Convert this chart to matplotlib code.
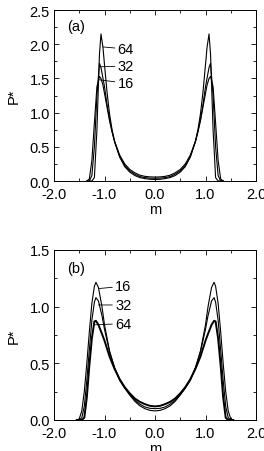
import numpy as np
import matplotlib
matplotlib.use('Agg')
import matplotlib.pyplot as plt
from matplotlib.ticker import MultipleLocator

plt.rcParams['font.family'] = ['Liberation Sans', 'DejaVu Sans']

# panel (a): left half, right half typed in mirror order
m_a = [-1.35, -1.30, -1.25, -1.20, -1.15, -1.10, -1.07, -1.03, -1.00, -0.95, -0.90, -0.85, -0.80,
       -0.70, -0.60, -0.50, -0.40, -0.30, -0.20, -0.10, 0.00,
       0.10, 0.20, 0.30, 0.40, 0.50, 0.60, 0.70, 0.80, 0.85, 0.90, 0.95, 1.00, 1.03, 1.07, 1.10,
       1.15, 1.20, 1.25, 1.30, 1.35]
p_a64 = [0.0, 0.0, 0.0, 0.05, 0.75, 1.85, 2.15, 1.95, 1.70, 1.30, 0.98, 0.75, 0.58,
         0.35, 0.21, 0.13, 0.08, 0.05, 0.035, 0.025, 0.022,
         0.025, 0.035, 0.05, 0.08, 0.13, 0.21, 0.35, 0.58, 0.75, 0.98, 1.30, 1.70, 1.95, 2.15, 1.85,
         0.75, 0.05, 0.0, 0.0, 0.0]
p_a32 = [0.0, 0.0, 0.08, 0.50, 1.25, 1.72, 1.66, 1.50, 1.38, 1.12, 0.90, 0.72, 0.57,
         0.36, 0.23, 0.15, 0.10, 0.065, 0.05, 0.042, 0.04,
         0.042, 0.05, 0.065, 0.10, 0.15, 0.23, 0.36, 0.57, 0.72, 0.90, 1.12, 1.38, 1.50, 1.66, 1.72,
         1.25, 0.50, 0.08, 0.0, 0.0]
p_a16 = [0.0, 0.03, 0.30, 0.85, 1.38, 1.53, 1.50, 1.40, 1.28, 1.08, 0.88, 0.72, 0.58,
         0.38, 0.25, 0.17, 0.12, 0.085, 0.068, 0.06, 0.058,
         0.06, 0.068, 0.085, 0.12, 0.17, 0.25, 0.38, 0.58, 0.72, 0.88, 1.08, 1.28, 1.40, 1.50, 1.53,
         1.38, 0.85, 0.30, 0.03, 0.0]

# panel (b)
m_b = [-1.55, -1.50, -1.45, -1.40, -1.35, -1.30, -1.25, -1.20, -1.17, -1.12, -1.05, -1.00, -0.90,
       -0.80, -0.70, -0.60, -0.50, -0.40, -0.30, -0.20, -0.10, 0.00,
       0.10, 0.20, 0.30, 0.40, 0.50, 0.60, 0.70, 0.80, 0.90, 1.00, 1.05, 1.12, 1.17, 1.20,
       1.25, 1.30, 1.35, 1.40, 1.45, 1.50, 1.55]
p_b16 = [0.0, 0.01, 0.08, 0.25, 0.50, 0.78, 1.03, 1.18, 1.215, 1.17, 1.00, 0.84, 0.61,
         0.46, 0.35, 0.28, 0.22, 0.165, 0.125, 0.10, 0.085, 0.08,
         0.085, 0.10, 0.125, 0.165, 0.22, 0.28, 0.35, 0.46, 0.61, 0.84, 1.00, 1.17, 1.215, 1.18,
         1.03, 0.78, 0.50, 0.25, 0.08, 0.01, 0.0]
p_b32 = [0.0, 0.0, 0.02, 0.12, 0.35, 0.62, 0.88, 1.04, 1.08, 1.05, 0.92, 0.80, 0.60,
         0.46, 0.36, 0.285, 0.225, 0.175, 0.14, 0.115, 0.103, 0.10,
         0.103, 0.115, 0.14, 0.175, 0.225, 0.285, 0.36, 0.46, 0.60, 0.80, 0.92, 1.05, 1.08, 1.04,
         0.88, 0.62, 0.35, 0.12, 0.02, 0.0, 0.0]
p_b64 = [0.0, 0.0, 0.0, 0.02, 0.20, 0.48, 0.72, 0.87, 0.875, 0.84, 0.76, 0.70, 0.56,
         0.45, 0.36, 0.29, 0.235, 0.19, 0.16, 0.14, 0.125, 0.12,
         0.125, 0.14, 0.16, 0.19, 0.235, 0.29, 0.36, 0.45, 0.56, 0.70, 0.76, 0.84, 0.875, 0.87,
         0.72, 0.48, 0.20, 0.02, 0.0, 0.0, 0.0]

fig = plt.figure(figsize=(2.64, 4.52), dpi=100)
ax1 = fig.add_axes([54/264, 1 - 182/452, 202/264, 171/452])
ax2 = fig.add_axes([54/264, 1 - 421/452, 202/264, 170/452])

fs = 10.5
for ax in (ax1, ax2):
    ax.set_xlim(-2.0, 2.0)
    ax.xaxis.set_major_locator(MultipleLocator(1.0))
    ax.xaxis.set_minor_locator(MultipleLocator(0.5))
    ax.yaxis.set_major_locator(MultipleLocator(0.5))
    ax.yaxis.set_minor_locator(MultipleLocator(0.25))
    ax.tick_params(which='both', direction='in', top=True, right=True, labelsize=fs)
    ax.tick_params(axis='x', pad=4)
    ax.tick_params(axis='y', pad=3)
    ax.tick_params(which='major', length=3.5, width=0.6)
    ax.tick_params(which='minor', length=2, width=0.6)
    ax.xaxis.set_major_formatter(plt.FormatStrFormatter('%.1f'))
    ax.yaxis.set_major_formatter(plt.FormatStrFormatter('%.1f'))
    for s in ax.spines.values():
        s.set_linewidth(0.7)
    ax.set_xlabel('m', fontsize=fs, labelpad=1)
    ax.set_ylabel('P*', fontsize=fs, labelpad=6)

ax1.set_ylim(0, 2.5)
ax1.plot(m_a, p_a64, color='k', lw=0.8)
ax1.plot(m_a, p_a32, color='k', lw=0.8)
ax1.plot(m_a, p_a16, color='k', lw=0.8)
ax1.text(-1.74, 2.27, '(a)', fontsize=fs, va='center')
for lab, xy, yt in [('64', (-1.03, 1.96), 1.93), ('32', (-1.09, 1.67), 1.68), ('16', (-1.11, 1.48), 1.43)]:
    ax1.annotate(lab, xy=xy, xytext=(-0.74, yt), fontsize=fs, va='center',
                 arrowprops=dict(arrowstyle='-', lw=0.6, color='k', shrinkA=0, shrinkB=0))

ax2.set_ylim(0, 1.5)
ax2.plot(m_b, p_b16, color='k', lw=0.8)
ax2.plot(m_b, p_b32, color='k', lw=0.8)
ax2.plot(m_b, p_b64, color='k', lw=1.4)
ax2.text(-1.74, 1.34, '(b)', fontsize=fs, va='center')
for lab, xy, yt in [('16', (-1.11, 1.16), 1.18), ('32', (-1.12, 1.015), 1.015), ('64', (-1.19, 0.84), 0.85)]:
    ax2.annotate(lab, xy=xy, xytext=(-0.79, yt), fontsize=fs, va='center',
                 arrowprops=dict(arrowstyle='-', lw=0.6, color='k', shrinkA=0, shrinkB=0))

fig.savefig('out.png', dpi=100)
